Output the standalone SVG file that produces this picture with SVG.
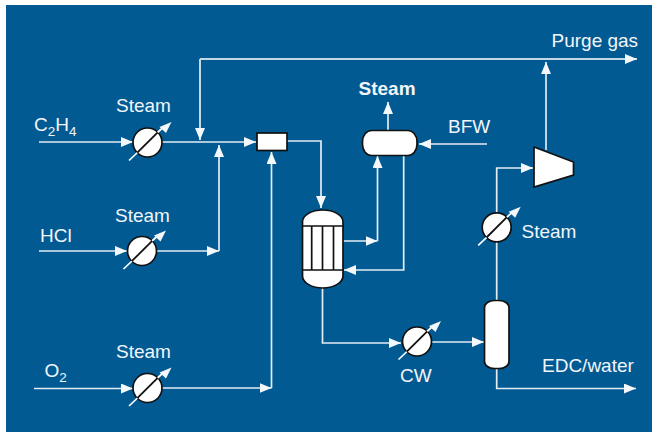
<svg xmlns="http://www.w3.org/2000/svg" width="652" height="432" viewBox="0 0 652 432">
<style>
text{font-family:"Liberation Sans",Arial,sans-serif;font-size:19px;fill:#f2f6fa}
.b{font-weight:bold}
.s{font-size:13.5px}
.c{fill:none;stroke:#e3edf4;stroke-width:1.7}
.r{stroke:#c4d9e6;stroke-width:2}
.u{fill:#fff;stroke:#111;stroke-width:1.7}
.i{fill:none;stroke:#111;stroke-width:1.7}
.d{stroke:#fff;stroke-width:1.7;fill:none}
.h{fill:#f4f8fb}
</style>
<defs>
<marker id="a" markerUnits="userSpaceOnUse" markerWidth="12" markerHeight="10" refX="12" refY="5" orient="auto"><path d="M0 0L12 5L0 10Z" fill="#f4f8fb"/></marker>
<g id="hx">
<circle r="14.500" class="u"/>
<path d="M-18.500 18L-10 10M10 -10L16 -15.500" class="d"/>
<path d="M-10.200 10.200L10.200 -10.200" stroke="#111" stroke-width="1.800" fill="none"/>
<path d="M24 -20.500L18.500 -9.500L12 -15.500Z" class="h"/>
</g>
</defs>
<rect x="6" y="5" width="646" height="427" fill="#025a93"/>
<g id="connectors">
<path class="c" marker-end="url(#a)" d="M39 142H133"/>
<path class="c" marker-end="url(#a)" d="M162 142H256"/>
<path class="c r" marker-end="url(#a)" d="M200 59H637"/>
<path class="c r" marker-end="url(#a)" d="M200 59V140"/>
<path class="c" d="M39 251H127" marker-end="url(#a)"/>
<path class="c" marker-end="url(#a)" d="M157 251H219"/>
<path class="c" marker-end="url(#a)" d="M219 251V145"/>
<path class="c" marker-end="url(#a)" d="M34 388.500H133"/>
<path class="c" marker-end="url(#a)" d="M162 388H271.500"/>
<path class="c" marker-end="url(#a)" d="M271.500 388V152"/>
<path class="c" marker-end="url(#a)" d="M287 141H321V208"/>
<path class="c" marker-end="url(#a)" d="M343 241H377.500"/>
<path class="c" marker-end="url(#a)" d="M377.500 241V156"/>
<path class="c" marker-end="url(#a)" d="M403.700 156V270H344"/>
<path class="c" marker-end="url(#a)" d="M388 130V102"/>
<path class="c" marker-end="url(#a)" d="M487 144H419"/>
<path class="c" marker-end="url(#a)" d="M496.700 212V168H533"/>
<path class="c" marker-end="url(#a)" d="M546 150V62"/>
<path class="c" d="M496.700 300V242"/>
<path class="c" marker-end="url(#a)" d="M496.700 368V388.500H636"/>
<path class="c" marker-end="url(#a)" d="M322.500 288V343H401"/>
<path class="c" marker-end="url(#a)" d="M431 342H484"/>
</g>
<g id="hx1"><use href="#hx" x="147.500" y="142.500"/></g>
<g id="hx2"><use href="#hx" x="142" y="251"/></g>
<g id="hx3"><use href="#hx" x="147.500" y="388"/></g>
<g id="hx4"><use href="#hx" x="417" y="341.500"/></g>
<g id="hx5"><use href="#hx" x="496.700" y="227.300"/></g>
<g id="mixer"><rect x="257" y="133" width="30" height="17.500" class="u"/></g>
<g id="reactor">
<path class="u" d="M302.500 222C302.500 215 312 210 322.700 210S343 215 343 222V276C343 283 333 288 322.700 288S302.500 283 302.500 276Z"/>
<path class="i" d="M302.500 226H343M302.500 270H343M311.700 226V270M322.500 226V270M333.500 226V270"/>
</g>
<g id="drum"><rect x="362.500" y="130.500" width="54.500" height="25" rx="9" ry="11" class="u"/></g>
<g id="compressor"><path class="u" d="M534 147L573.500 162V175L534 187Z"/></g>
<g id="column"><rect x="484.500" y="300.500" width="24.500" height="68" rx="10" ry="7" class="u"/></g>
<g id="labels">
<text x="116" y="112">Steam</text>
<text x="115" y="222">Steam</text>
<text x="116" y="358">Steam</text>
<text x="34" y="131">C<tspan class="s" dy="5">2</tspan><tspan dy="-5">H</tspan><tspan class="s" dy="5">4</tspan></text>
<text x="40" y="241.500">HCl</text>
<text x="44.500" y="377">O<tspan class="s" dy="5">2</tspan></text>
<text x="400" y="382">CW</text>
<text x="521.500" y="238">Steam</text>
<text x="542" y="372">EDC/water</text>
<text x="551.500" y="47">Purge gas</text>
<text x="358.500" y="95" class="b">Steam</text>
<text x="448" y="133">BFW</text>
</g>
</svg>
